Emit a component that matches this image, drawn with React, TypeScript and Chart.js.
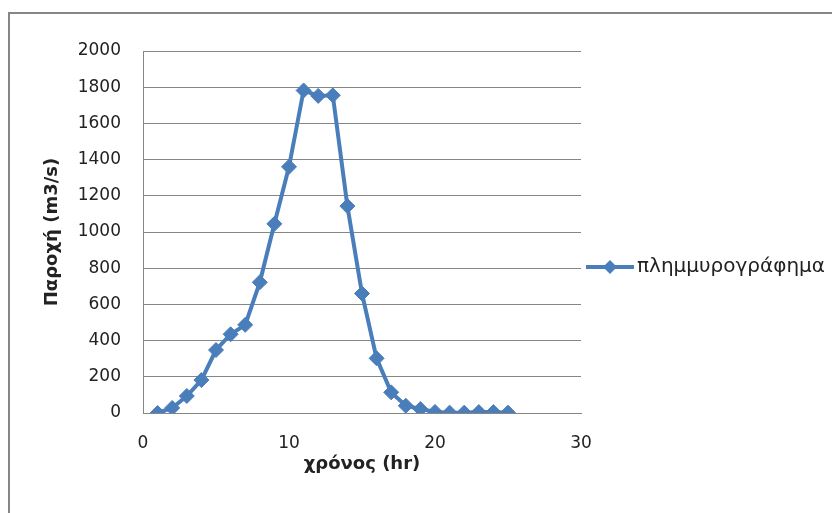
import React, { useEffect, useRef } from "react";
import { Chart, registerables } from "chart.js";

Chart.register(...registerables);

const hours = [1, 2, 3, 4, 5, 6, 7, 8, 9, 10, 11, 12, 13, 14, 15, 16, 17, 18, 19, 20, 21, 22, 23, 24, 25];
const discharge = [0, 28, 94, 182, 348, 435, 487, 722, 1045, 1360, 1782, 1752, 1755, 1143, 660, 302, 114, 40, 22, 6, 2, 2, 5, 5, 2];
const seriesLabel = "πλημμυρογράφημα";
const xTitle = "χρόνος (hr)";
const yTitle = "Παροχή (m3/s)";
const xRange = [0, 30];
const xStep = 10;
const yRange = [0, 2000];
const yStep = 200;

const BLUE = "#4a7ebb";
const GRAY = "#868686";
const FONT = "'DejaVu Sans', sans-serif";

const legendPlugin = {
  id: "lineLegend",
  afterDraw(chart: any) {
    const ds = chart.data.datasets[0];
    const { ctx, chartArea } = chart;
    const y = (chartArea.top + chartArea.bottom) / 2 + 35;
    const x0 = chartArea.right + 5;
    const x1 = x0 + 48;
    ctx.save();
    ctx.strokeStyle = ds.borderColor;
    ctx.lineWidth = ds.borderWidth;
    ctx.beginPath();
    ctx.moveTo(x0, y);
    ctx.lineTo(x1, y);
    ctx.stroke();
    const cx = (x0 + x1) / 2;
    const r = 7;
    ctx.fillStyle = ds.pointBackgroundColor;
    ctx.beginPath();
    ctx.moveTo(cx - r, y);
    ctx.lineTo(cx, y - r);
    ctx.lineTo(cx + r, y);
    ctx.lineTo(cx, y + r);
    ctx.closePath();
    ctx.fill();
    ctx.fillStyle = "#222";
    ctx.font = `20px ${FONT}`;
    ctx.textBaseline = "middle";
    ctx.textAlign = "left";
    ctx.fillText(ds.label, x1 + 3, y);
    ctx.restore();
  },
};

export default function App() {
  const ref = useRef<HTMLCanvasElement | null>(null);

  useEffect(() => {
    if (!ref.current) return;
    const chart = new Chart(ref.current, {
      type: "line",
      data: {
        datasets: [
          {
            label: seriesLabel,
            data: hours.map((h, i) => ({ x: h, y: discharge[i] })),
            borderColor: BLUE,
            backgroundColor: BLUE,
            pointBackgroundColor: BLUE,
            pointBorderColor: BLUE,
            borderWidth: 4,
            pointStyle: "rectRot",
            pointRadius: 7.5,
            pointBorderWidth: 1,
            tension: 0,
          },
        ],
      },
      options: {
        animation: false,
        responsive: false,
        devicePixelRatio: 1,
        layout: { padding: { left: 0, top: 51, right: 251, bottom: 0 } },
        plugins: {
          legend: { display: false },
          tooltip: { enabled: false },
        },
        scales: {
          x: {
            type: "linear",
            min: xRange[0],
            max: xRange[1],
            grid: { display: false, drawTicks: false },
            border: { display: true, color: GRAY, width: 1 },
            ticks: {
              stepSize: xStep,
              padding: 20,
              color: "#222",
              font: { family: FONT, size: 17 },
              maxRotation: 0,
              callback: (v: any) => String(v),
            },
            title: {
              display: true,
              text: xTitle,
              color: "#222",
              font: { family: FONT, size: 18, weight: "bold" },
              padding: { top: 0, bottom: 38 },
            },
            afterFit: (s: any) => {
              s.height = 100;
            },
          },
          y: {
            min: yRange[0],
            max: yRange[1],
            grid: { color: GRAY, lineWidth: 1, drawTicks: false },
            border: { display: true, color: GRAY, width: 1 },
            ticks: {
              stepSize: yStep,
              padding: 22,
              color: "#222",
              font: { family: FONT, size: 17 },
              callback: (v: any) => String(v),
            },
            title: {
              display: true,
              text: yTitle,
              color: "#222",
              font: { family: FONT, size: 18, weight: "bold" },
              padding: { top: 42, bottom: 0 },
            },
            afterFit: (s: any) => {
              s.width = 143;
            },
          },
        },
      },
      plugins: [legendPlugin],
    });
    return () => chart.destroy();
  }, []);

  return (
    <div style={{ position: "fixed", left: 0, top: 0, width: 832, height: 513, background: "#fff", overflow: "hidden" }}>
      <div
        style={{
          position: "absolute",
          left: 8,
          top: 12,
          width: 900,
          height: 600,
          borderLeft: `2px solid ${GRAY}`,
          borderTop: `2px solid ${GRAY}`,
        }}
      />
      <canvas ref={ref} width={832} height={513} style={{ position: "absolute", left: 0, top: 0, width: 832, height: 513 }} />
    </div>
  );
}
